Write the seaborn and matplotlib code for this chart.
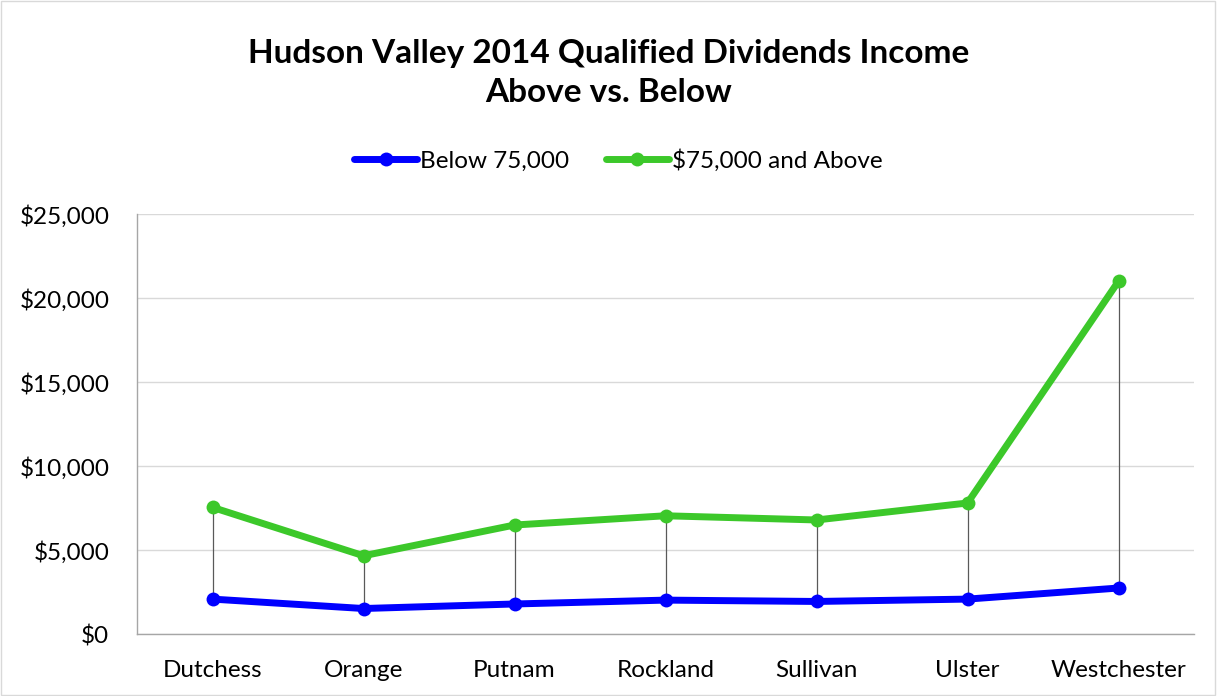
import pandas as pd
import numpy as np
import matplotlib
matplotlib.use('Agg')
import matplotlib.pyplot as plt
import seaborn as sns
from matplotlib.patches import Rectangle

# Data
counties = ['Dutchess', 'Orange', 'Putnam', 'Rockland', 'Sullivan', 'Ulster', 'Westchester']
below_75k = [2080, 1520, 1790, 2020, 1940, 2080, 2740]
above_75k = [7540, 4660, 6490, 7040, 6790, 7800, 21000]
series_names = ['Below 75,000', '$75,000 and Above']
y_ticks = [0, 5000, 10000, 15000, 20000, 25000]

df = pd.DataFrame({
    'County': counties * 2,
    'Income': below_75k + above_75k,
    'Group': [series_names[0]] * len(counties) + [series_names[1]] * len(counties),
})

sns.set_style('white')
plt.rcParams['font.family'] = ['Lato', 'DejaVu Sans']
plt.rcParams['text.color'] = 'black'

fig = plt.figure(figsize=(12.17, 6.96), dpi=100)
ax = fig.add_axes([0.1126, 0.089, 0.8685, 0.6035])

# thin hi-lo lines between the two series
ax.vlines(counties, below_75k, above_75k, color='#595959', linewidth=0.9, zorder=1)

sns.lineplot(data=df, x='County', y='Income', hue='Group',
             palette=['#0000ff', '#3cc82a'], marker='o', markersize=10,
             markeredgewidth=0, linewidth=5, sort=False, ax=ax, zorder=3)

ax.set_xlim(-0.5, len(counties) - 0.5)
ax.set_ylim(0, 25000)
ax.set_yticks(y_ticks)
ax.set_yticklabels(['${:,.0f}'.format(v) for v in y_ticks])
ax.yaxis.grid(True, color='#d9d9d9', linewidth=1)
ax.set_axisbelow(True)
ax.set_xlabel('')
ax.set_ylabel('')

for side in ['top', 'right']:
    ax.spines[side].set_visible(False)
for side in ['left', 'bottom']:
    ax.spines[side].set_color('#a6a6a6')
    ax.spines[side].set_linewidth(1)

ax.set_xticks(np.arange(-0.5, len(counties), 1), minor=True)
ax.tick_params(axis='x', which='major', length=0, labelsize=17.5, pad=19, colors='black')
ax.tick_params(axis='x', which='minor', length=7, color='#a6a6a6', width=1)
ax.tick_params(axis='y', length=6, color='#a6a6a6', width=1, labelsize=17.5, pad=14,
               labelcolor='black')

leg = ax.legend(loc='center', bbox_to_anchor=(0.508, 0.77), bbox_transform=fig.transFigure,
                ncol=2, frameon=False, fontsize=17.5, handlelength=2.6,
                handletextpad=0.12, columnspacing=1.5)

fig.text(0.5, 0.895, 'Hudson Valley 2014 Qualified Dividends Income\nAbove vs. Below',
         ha='center', va='center', fontsize=24, fontweight='bold', linespacing=1.45,
         color='black')

fig.patches.append(Rectangle((0.001, 0.001), 0.997, 0.997, transform=fig.transFigure,
                             fill=False, edgecolor='#d9d9d9', linewidth=1))

fig.savefig('out.png', dpi=100)
